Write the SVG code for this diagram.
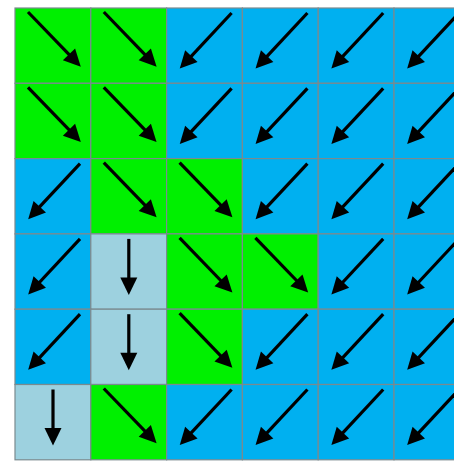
<svg xmlns="http://www.w3.org/2000/svg" xmlns:xlink="http://www.w3.org/1999/xlink" width="454" height="461" viewBox="0 0 454 461">
<style>
.g{fill:#00f000}
.b{fill:#00b0f0}
.l{fill:#9dd1df}
.cell rect{stroke:#7a8a8f;stroke-width:1.2}
.arr line{stroke:#000;stroke-width:3.2}
.arr polygon{fill:#000}
</style>
<defs>
<g id="diag" class="arr"><line x1="0" y1="0" x2="62" y2="0"/><polygon points="76,0 59,-8.5 59,8.5"/></g>
<g id="down" class="arr"><line x1="0" y1="0" x2="0" y2="42"/><polygon points="0,56 -8.5,38.5 8.5,38.5"/></g>
<g id="dr"><use xlink:href="#diag" transform="translate(13,4) rotate(46)"/></g>
<g id="dl"><use xlink:href="#diag" transform="translate(65,5) rotate(133)"/></g>
<g id="dn"><use xlink:href="#down" transform="translate(38,5)"/></g>
</defs>
<rect x="0" y="0" width="454" height="461" fill="#fff"/>
<g id="cells">
<g id="c11" class="cell" transform="translate(15,8)"><rect class="g" width="75.8" height="75.3"/><use xlink:href="#dr"/></g>
<g id="c12" class="cell" transform="translate(90.8,8)"><rect class="g" width="75.8" height="75.3"/><use xlink:href="#dr"/></g>
<g id="c13" class="cell" transform="translate(166.6,8)"><rect class="b" width="75.8" height="75.3"/><use xlink:href="#dl"/></g>
<g id="c14" class="cell" transform="translate(242.4,8)"><rect class="b" width="75.8" height="75.3"/><use xlink:href="#dl"/></g>
<g id="c15" class="cell" transform="translate(318.2,8)"><rect class="b" width="75.8" height="75.3"/><use xlink:href="#dl"/></g>
<g id="c16" class="cell" transform="translate(394,8)"><rect class="b" width="75.8" height="75.3"/><use xlink:href="#dl"/></g>

<g id="c21" class="cell" transform="translate(15,83.3)"><rect class="g" width="75.8" height="75.3"/><use xlink:href="#dr"/></g>
<g id="c22" class="cell" transform="translate(90.8,83.3)"><rect class="g" width="75.8" height="75.3"/><use xlink:href="#dr"/></g>
<g id="c23" class="cell" transform="translate(166.6,83.3)"><rect class="b" width="75.8" height="75.3"/><use xlink:href="#dl"/></g>
<g id="c24" class="cell" transform="translate(242.4,83.3)"><rect class="b" width="75.8" height="75.3"/><use xlink:href="#dl"/></g>
<g id="c25" class="cell" transform="translate(318.2,83.3)"><rect class="b" width="75.8" height="75.3"/><use xlink:href="#dl"/></g>
<g id="c26" class="cell" transform="translate(394,83.3)"><rect class="b" width="75.8" height="75.3"/><use xlink:href="#dl"/></g>

<g id="c31" class="cell" transform="translate(15,158.6)"><rect class="b" width="75.8" height="75.3"/><use xlink:href="#dl"/></g>
<g id="c32" class="cell" transform="translate(90.8,158.6)"><rect class="g" width="75.8" height="75.3"/><use xlink:href="#dr"/></g>
<g id="c33" class="cell" transform="translate(166.6,158.6)"><rect class="g" width="75.8" height="75.3"/><use xlink:href="#dr"/></g>
<g id="c34" class="cell" transform="translate(242.4,158.6)"><rect class="b" width="75.8" height="75.3"/><use xlink:href="#dl"/></g>
<g id="c35" class="cell" transform="translate(318.2,158.6)"><rect class="b" width="75.8" height="75.3"/><use xlink:href="#dl"/></g>
<g id="c36" class="cell" transform="translate(394,158.6)"><rect class="b" width="75.8" height="75.3"/><use xlink:href="#dl"/></g>

<g id="c41" class="cell" transform="translate(15,233.9)"><rect class="b" width="75.8" height="75.3"/><use xlink:href="#dl"/></g>
<g id="c42" class="cell" transform="translate(90.8,233.9)"><rect class="l" width="75.8" height="75.3"/><use xlink:href="#dn"/></g>
<g id="c43" class="cell" transform="translate(166.6,233.9)"><rect class="g" width="75.8" height="75.3"/><use xlink:href="#dr"/></g>
<g id="c44" class="cell" transform="translate(242.4,233.9)"><rect class="g" width="75.8" height="75.3"/><use xlink:href="#dr"/></g>
<g id="c45" class="cell" transform="translate(318.2,233.9)"><rect class="b" width="75.8" height="75.3"/><use xlink:href="#dl"/></g>
<g id="c46" class="cell" transform="translate(394,233.9)"><rect class="b" width="75.8" height="75.3"/><use xlink:href="#dl"/></g>

<g id="c51" class="cell" transform="translate(15,309.2)"><rect class="b" width="75.8" height="75.3"/><use xlink:href="#dl"/></g>
<g id="c52" class="cell" transform="translate(90.8,309.2)"><rect class="l" width="75.8" height="75.3"/><use xlink:href="#dn"/></g>
<g id="c53" class="cell" transform="translate(166.6,309.2)"><rect class="g" width="75.8" height="75.3"/><use xlink:href="#dr"/></g>
<g id="c54" class="cell" transform="translate(242.4,309.2)"><rect class="b" width="75.8" height="75.3"/><use xlink:href="#dl"/></g>
<g id="c55" class="cell" transform="translate(318.2,309.2)"><rect class="b" width="75.8" height="75.3"/><use xlink:href="#dl"/></g>
<g id="c56" class="cell" transform="translate(394,309.2)"><rect class="b" width="75.8" height="75.3"/><use xlink:href="#dl"/></g>

<g id="c61" class="cell" transform="translate(15,384.5)"><rect class="l" width="75.8" height="75.3"/><use xlink:href="#dn"/></g>
<g id="c62" class="cell" transform="translate(90.8,384.5)"><rect class="g" width="75.8" height="75.3"/><use xlink:href="#dr"/></g>
<g id="c63" class="cell" transform="translate(166.6,384.5)"><rect class="b" width="75.8" height="75.3"/><use xlink:href="#dl"/></g>
<g id="c64" class="cell" transform="translate(242.4,384.5)"><rect class="b" width="75.8" height="75.3"/><use xlink:href="#dl"/></g>
<g id="c65" class="cell" transform="translate(318.2,384.5)"><rect class="b" width="75.8" height="75.3"/><use xlink:href="#dl"/></g>
<g id="c66" class="cell" transform="translate(394,384.5)"><rect class="b" width="75.8" height="75.3"/><use xlink:href="#dl"/></g>
</g>
</svg>
